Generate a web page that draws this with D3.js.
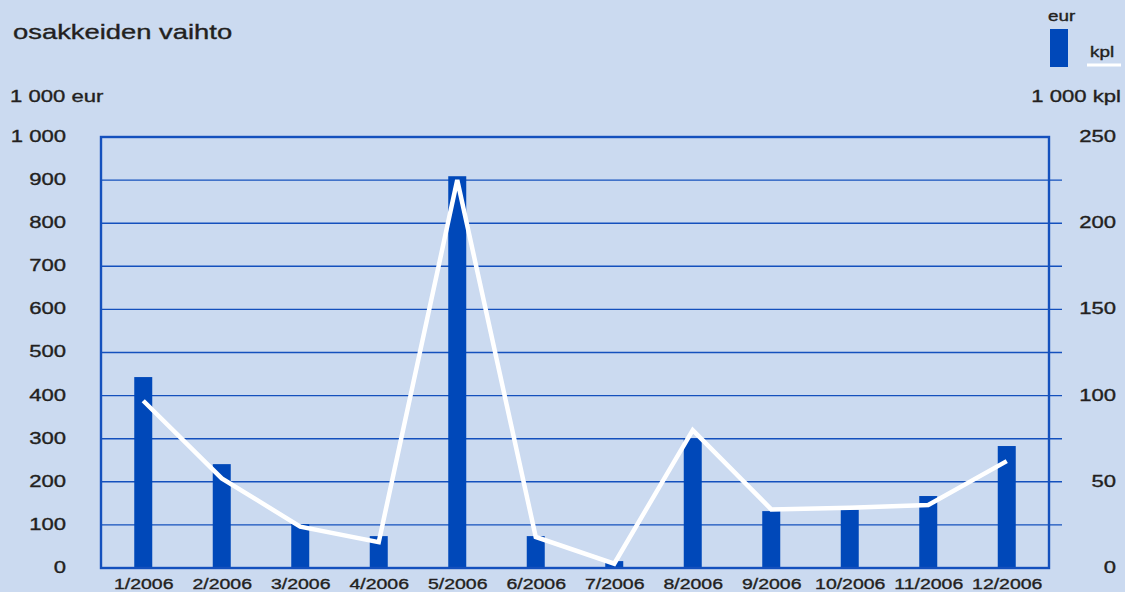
<!DOCTYPE html>
<html>
<head>
<meta charset="utf-8">
<script src="https://cdn.jsdelivr.net/npm/d3@7"></script>
<style>
  html, body { margin: 0; padding: 0; background: #cbdaf0; }
  svg { display: block; }
  text { font-family: "Liberation Sans", Arial, sans-serif; fill: #231f20; stroke: #231f20; stroke-width: 0.35px; }
</style>
</head>
<body>
<svg id="chart" width="1125" height="592"></svg>
<script>
// Monthly share turnover: value (1 000 eur, bars) and volume (1 000 kpl, line)
const months = ["1/2006", "2/2006", "3/2006", "4/2006", "5/2006", "6/2006",
                "7/2006", "8/2006", "9/2006", "10/2006", "11/2006", "12/2006"];
const eurValues = [443, 241, 102, 74, 909, 74, 16, 300, 132, 135, 167, 283];
const kplValues = [97, 52, 24, 15, 225, 18, 2.5, 80, 34, 35, 36.5, 62];
const eurTicks = [0, 100, 200, 300, 400, 500, 600, 700, 800, 900, 1000];
const kplTicks = [0, 50, 100, 150, 200, 250];

const BLUE = "#0048b9";
const LINE_BLUE = "#1450bd";
const SX = 1.3; // horizontal stretch of the typeface

const svg = d3.select("#chart");
const plot = { left: 101, right: 1049, top: 137, bottom: 568 };

const x = d3.scalePoint().domain(months).range([104, 1046]).padding(0.5);
const yEur = d3.scaleLinear().domain([0, 1000]).range([plot.bottom, plot.top]);
const yKpl = d3.scaleLinear().domain([0, 250]).range([plot.bottom, plot.top]);
const barW = 18;

function stretchText(sel, size, anchor, sx = SX) {
  sel.each(function () {
    const t = d3.select(this);
    const tx = +t.attr("x") || 0;
    const ty = +t.attr("y") || 0;
    t.attr("x", null).attr("y", null)
     .attr("transform", `translate(${tx},${ty}) scale(${sx},1)`)
     .attr("font-size", size)
     .attr("text-anchor", anchor);
  });
}

// horizontal gridlines (extend past the right frame like tick marks)
svg.append("g")
  .selectAll("line")
  .data(eurTicks.filter(d => d > 0 && d < 1000))
  .join("line")
  .attr("x1", plot.left).attr("x2", 1062)
  .attr("y1", d => yEur(d)).attr("y2", d => yEur(d))
  .attr("stroke", LINE_BLUE).attr("stroke-width", 1.4);

// bars
svg.append("g")
  .selectAll("rect")
  .data(months)
  .join("rect")
  .attr("x", d => x(d) - barW / 2)
  .attr("width", barW)
  .attr("y", (d, i) => yEur(eurValues[i]))
  .attr("height", (d, i) => plot.bottom - yEur(eurValues[i]))
  .attr("fill", BLUE);

// frame
svg.append("rect")
  .attr("x", plot.left).attr("y", plot.top)
  .attr("width", plot.right - plot.left).attr("height", plot.bottom - plot.top)
  .attr("fill", "none").attr("stroke", LINE_BLUE).attr("stroke-width", 2.4);

// volume line
svg.append("path")
  .datum(kplValues)
  .attr("d", d3.line().x((d, i) => x(months[i])).y(d => yKpl(d)))
  .attr("fill", "none").attr("stroke", "#ffffff").attr("stroke-width", 4.5)
  .attr("stroke-linejoin", "miter");

const fmt = d => d3.format(",")(d).replace(/,/g, " ");

// left axis
const gL = svg.append("g").attr("transform", "translate(66,0)")
  .call(d3.axisLeft(yEur).tickValues(eurTicks).tickSize(0).tickPadding(0).tickFormat(fmt));
gL.select(".domain").remove();
gL.selectAll("text").attr("dy", "0.32em").attr("y", -1).attr("x", 0).attr("fill", "#231f20")
  .call(stretchText, 17, "end");

// right axis
const gR = svg.append("g").attr("transform", "translate(1116,0)")
  .call(d3.axisRight(yKpl).tickValues(kplTicks).tickSize(0).tickPadding(0));
gR.select(".domain").remove();
gR.selectAll("text").attr("dy", "0.32em").attr("y", -1).attr("x", 0).attr("fill", "#231f20")
  .call(stretchText, 17, "end");

// bottom axis
const gB = svg.append("g").attr("transform", "translate(0,589)")
  .call(d3.axisBottom(x).tickSize(0).tickPadding(0));
gB.select(".domain").remove();
gB.selectAll("text").attr("dy", null).attr("y", 0).attr("x", 0).attr("fill", "#231f20")
  .call(stretchText, 15, "middle");

// titles and units
function label(txt, px, py, size, anchor, sx) {
  svg.append("text").text(txt).attr("x", px).attr("y", py).call(stretchText, size, anchor, sx);
}
label("osakkeiden vaihto", 13, 39, 20, "start", 1.37);
label("1 000 eur", 10, 102, 17, "start");
label("1 000 kpl", 1121, 102, 17, "end");

// legend
svg.append("rect").attr("x", 1050).attr("y", 29).attr("width", 18).attr("height", 38).attr("fill", BLUE);
label("eur", 1048, 21, 14.5, "start");
svg.append("line").attr("x1", 1087).attr("x2", 1121).attr("y1", 65).attr("y2", 65)
  .attr("stroke", "#ffffff").attr("stroke-width", 3);
label("kpl", 1090, 57, 14.5, "start");
</script>
</body>
</html>
